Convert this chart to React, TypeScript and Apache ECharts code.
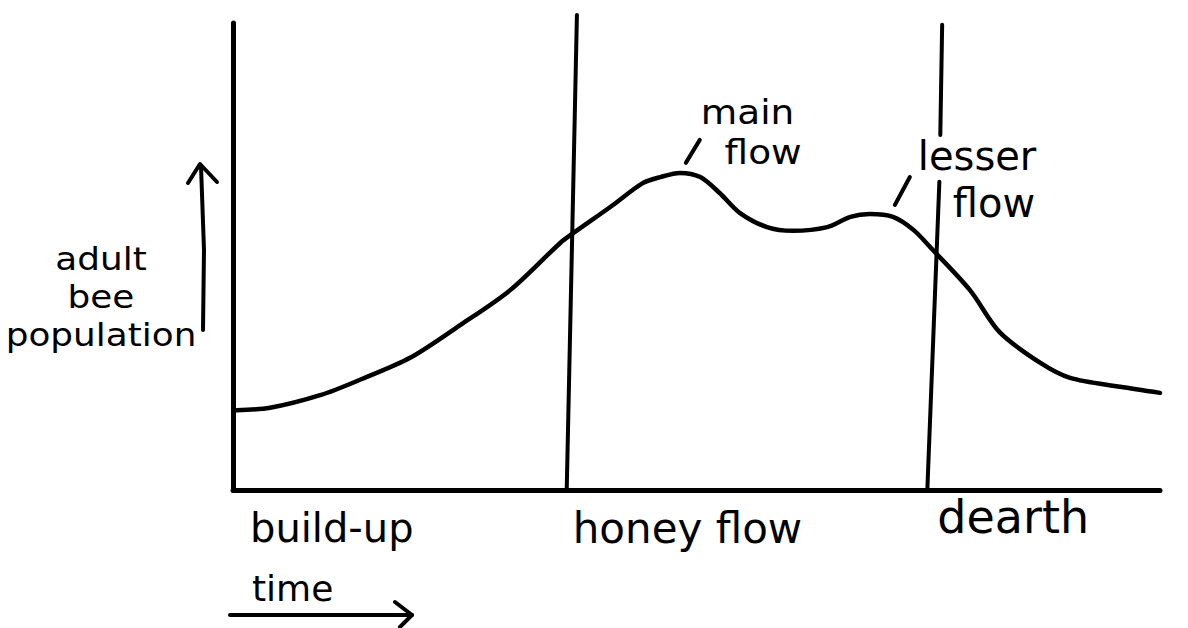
import React, { useEffect, useRef } from "react";
import * as echarts from "echarts";

// adult bee population curve over time (both axes 0..100, arbitrary units)
const timeX = [0.4, 4.0, 9.4, 13.7, 19.1, 24.5, 29.9, 35.3, 36.7, 40.7, 44.2, 46.1, 48.2, 50.4, 52.5, 54.7, 57.6, 60.4, 64.1, 66.6, 68.7, 71.2, 73.4, 75.5, 79.5, 82.7, 87.1, 90.3, 95.7, 100];
const population = [17.1, 17.6, 20.3, 23.6, 28.3, 35.3, 42.8, 52.9, 55.0, 60.6, 65.7, 67.0, 67.9, 67.0, 63.6, 59.3, 56.3, 55.5, 56.3, 58.5, 59.1, 58.5, 55.7, 51.4, 42.8, 33.8, 27.2, 24.0, 22.1, 20.8];

// phase boundaries (hand drawn, slightly slanted)
const honeyFlowBoundary = [[37.1, 101.7], [36.0, 0]];
const dearthBoundaryUpper = [[76.5, 99.6], [76.3, 76.0]];
const dearthBoundaryLower = [[76.2, 66.0], [74.9, 0]];

const phaseLabels = ["build-up", "honey flow", "dearth"];
const phaseStarts = [0, 36.0, 74.9];

const yAxisTitle = ["adult", "bee", "population"];
const xAxisTitle = "time";

const mainFlowLabel = ["main", "flow"];
const lesserFlowLabel = ["lesser", "flow"];
const mainPeak = [48.2, 67.9];
const lesserPeak = [68.7, 59.1];

const FONT = "'DejaVu Sans', sans-serif";

export default function App() {
  const ref = useRef<HTMLDivElement>(null);
  useEffect(() => {
    const chart = echarts.init(ref.current!, null, { renderer: "svg" });
    const ink = "#000";
    const axis = (extra: any) => ({
      type: "value",
      min: 0,
      max: 100,
      axisLine: { show: true, onZero: false, lineStyle: { color: ink, width: 5, cap: "round" } },
      axisTick: { show: false },
      axisLabel: { show: false },
      splitLine: { show: false },
      ...extra,
    });
    const straight = (data: number[][]) => ({
      type: "line",
      data,
      symbol: "none",
      clip: false,
      silent: true,
      lineStyle: { color: ink, width: 4, cap: "round" },
    });
    chart.setOption({
      animation: false,
      backgroundColor: "#fff",
      grid: { left: 233, right: 28, top: 23, bottom: 138 },
      xAxis: axis({}),
      yAxis: axis({}),
      series: [
        {
          type: "line",
          data: timeX.map((x, i) => [x, population[i]]),
          smooth: 0.3,
          symbol: "none",
          clip: false,
          lineStyle: { color: ink, width: 4.5, cap: "round", join: "round" },
        },
        straight(honeyFlowBoundary),
        straight(dearthBoundaryUpper),
        straight(dearthBoundaryLower),
      ],
    });

    const px = (p: number[]) => chart.convertToPixel({ gridIndex: 0 }, p) as number[];
    const graphics: any[] = [];
    const text = (
      t: string,
      x: number,
      y: number,
      size: number,
      align = "left",
      lineHeight?: number,
      scaleX = 1
    ) => ({
      type: "text",
      x,
      y,
      scaleX,
      style: {
        text: t,
        fill: ink,
        fontFamily: FONT,
        fontSize: size,
        lineHeight: lineHeight ?? size,
        align,
        verticalAlign: "middle",
      },
    });
    const seg = (pts: number[][], w = 4) => ({
      type: "polyline",
      shape: { points: pts },
      style: { stroke: ink, lineWidth: w, fill: null, lineCap: "round", lineJoin: "round" },
    });

    // phase labels under the x axis
    const labelOffsets = [17, 6, 10];
    const labelSizes = [40, 42, 46];
    const labelY = [528, 528, 517];
    phaseLabels.forEach((l, i) => {
      const p = px([phaseStarts[i], 0]);
      graphics.push(text(l, p[0] + labelOffsets[i], labelY[i], labelSizes[i]));
    });

    // time label with arrow
    graphics.push(text(xAxisTitle, 252, 588, 36));
    graphics.push(seg([[230, 615], [412, 615]], 4));
    graphics.push(seg([[395, 602], [412, 615], [400, 627]], 4));

    // y axis title and arrow
    graphics.push(text(yAxisTitle.join("\n"), 101, 297, 32, "center", 38, 1.12));
    graphics.push(seg([[203, 330], [204, 250], [201, 166]], 4));
    graphics.push(seg([[188, 183], [200, 164], [217, 182]], 4));

    // peak annotations
    const mp = px(mainPeak);
    graphics.push(seg([[mp[0] + 6, mp[1] - 10], [mp[0] + 20, mp[1] - 33]], 4));
    graphics.push(
      text(mainFlowLabel[0] + "\n  " + mainFlowLabel[1], mp[0] + 21, mp[1] - 41, 34, "left", 40, 1.1)
    );

    const lp = px(lesserPeak);
    graphics.push(seg([[lp[0] + 25, lp[1] - 9], [lp[0] + 40, lp[1] - 37]], 4));
    graphics.push(text(lesserFlowLabel[0], lp[0] + 48, lp[1] - 58, 40));
    graphics.push(text(lesserFlowLabel[1], lp[0] + 83, lp[1] - 11, 40));

    chart.setOption({ graphic: graphics });
    return () => chart.dispose();
  }, []);
  return (
    <div
      ref={ref}
      style={{ position: "fixed", left: 0, top: 0, width: 1188, height: 628, background: "#fff" }}
    />
  );
}
